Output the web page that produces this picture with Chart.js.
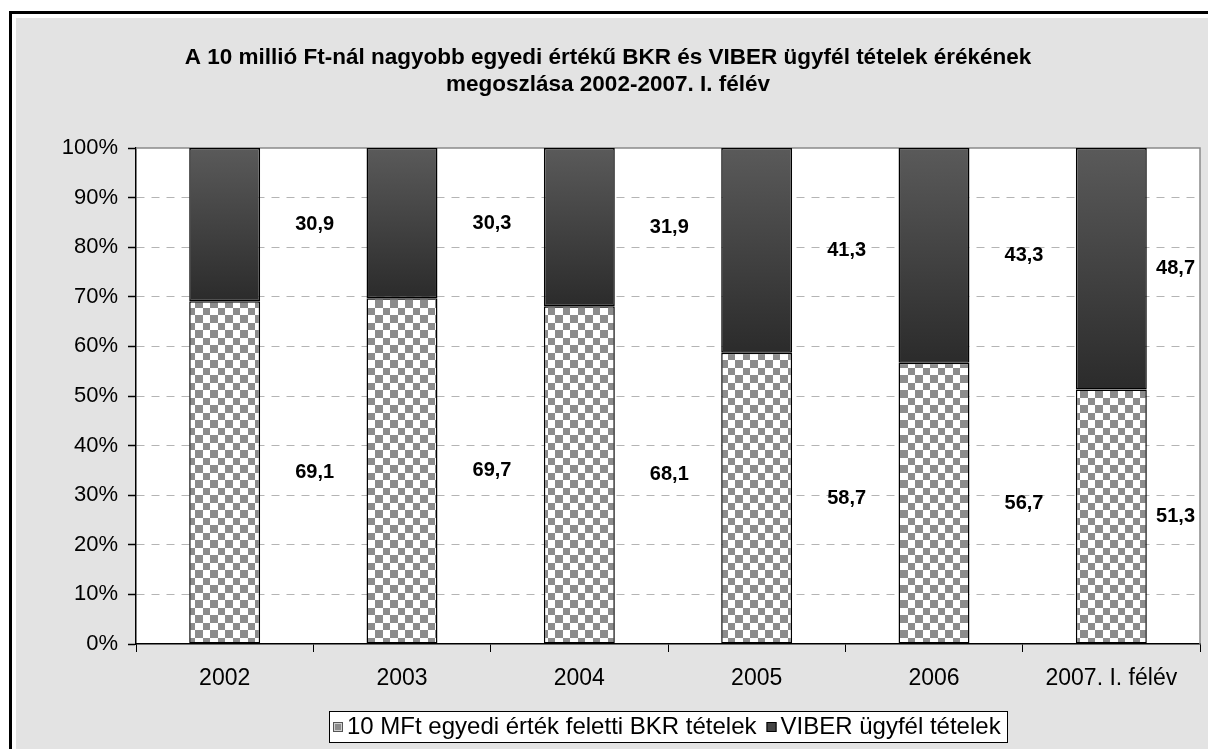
<!DOCTYPE html>
<html>
<head>
<meta charset="utf-8">
<script src="https://cdn.jsdelivr.net/npm/chart.js@4.4.0/dist/chart.umd.min.js"></script>
<style>
  html, body { margin: 0; padding: 0; background: #fff; }
  canvas { display: block; }
</style>
</head>
<body>
<canvas id="chart" width="1208" height="749"></canvas>
<script>
const categories = ["2002", "2003", "2004", "2005", "2006", "2007. I. félév"];
const bkrValues = [69.1, 69.7, 68.1, 58.7, 56.7, 51.3];
const viberValues = [30.9, 30.3, 31.9, 41.3, 43.3, 48.7];
const seriesNames = ["10 MFt egyedi érték feletti BKR tételek", "VIBER ügyfél tételek"];
const titleLines = [
  "A 10 millió Ft-nál nagyobb egyedi értékű BKR és VIBER ügyfél tételek érékének",
  "megoszlása 2002-2007. I. félév"
];
const yTicks = [0, 10, 20, 30, 40, 50, 60, 70, 80, 90, 100];

const FONT = "'Liberation Sans', Arial, sans-serif";

// checkerboard fill for the BKR part
function makeChecker() {
  const c = document.createElement("canvas");
  c.width = 15; c.height = 15;
  const g = c.getContext("2d");
  g.fillStyle = "#fff";
  g.fillRect(0, 0, 15, 15);
  g.fillStyle = "#8c8c8c";
  g.fillRect(0, 0, 8, 8);
  g.fillRect(8, 8, 7, 7);
  return g.createPattern(c, "repeat");
}
const checker = makeChecker();

// dark gradient for the VIBER part, one per bar segment
function viberFill(context) {
  const chart = context.chart;
  if (!chart.chartArea || context.type !== "data") return "#404040";
  const y = chart.scales.y;
  const top = y.getPixelForValue(100);
  const bot = y.getPixelForValue(bkrValues[context.dataIndex]);
  const g = chart.ctx.createLinearGradient(0, top, 0, bot);
  g.addColorStop(0, "#5a5a5a");
  g.addColorStop(1, "#2b2b2b");
  return g;
}

const frame = {
  id: "frame",
  beforeDraw(chart) {
    const { ctx, chartArea: a, width, height } = chart;
    ctx.save();
    ctx.fillStyle = "#fff";
    ctx.fillRect(0, 0, width, height);
    ctx.fillStyle = "#e3e3e3";
    ctx.fillRect(16, 18, width, height);
    ctx.strokeStyle = "#000";
    ctx.lineWidth = 3;
    ctx.strokeRect(10.5, 12.5, width + 20, height + 20);
    ctx.fillStyle = "#fff";
    ctx.fillRect(a.left, a.top, a.right - a.left, a.bottom - a.top);
    ctx.restore();
  },
  beforeDatasetsDraw(chart) {
    const { ctx, chartArea: a } = chart;
    ctx.save();
    ctx.strokeStyle = "#8a8a8a";
    ctx.lineWidth = 1.5;
    ctx.beginPath();
    ctx.moveTo(a.left, a.top);
    ctx.lineTo(a.right, a.top);
    ctx.lineTo(a.right, a.bottom);
    ctx.stroke();
    ctx.restore();
  }
};

const valueLabels = {
  id: "valueLabels",
  afterDatasetsDraw(chart) {
    const { ctx, chartArea } = chart;
    ctx.save();
    ctx.font = "bold 20px " + FONT;
    ctx.fillStyle = "#000";
    ctx.textAlign = "center";
    ctx.textBaseline = "middle";
    chart.data.datasets.forEach((ds, di) => {
      chart.getDatasetMeta(di).data.forEach((bar, i) => {
        const txt = ds.data[i].toFixed(1).replace(".", ",");
        const w = ctx.measureText(txt).width;
        const x = Math.min(bar.x + 90, chartArea.right - 5 - w / 2);
        ctx.fillText(txt, x, (bar.y + bar.base) / 2);
      });
    });
    ctx.restore();
  }
};

// legend in a white box, centred under the plot area
const boxLegend = {
  id: "boxLegend",
  afterDraw(chart) {
    const { ctx, chartArea: a } = chart;
    ctx.save();
    ctx.font = "24px " + FONT;
    const box = 10, gapBox = 4, gapItem = 10, padL = 4, padR = 6;
    const widths = seriesNames.map(n => ctx.measureText(n).width);
    const total = Math.round(padL + padR + widths.reduce((s, w) => s + box + gapBox + w, 0) + gapItem);
    const top = 711, h = 31;
    let x = Math.round((a.left + a.right) / 2 - total / 2);
    ctx.fillStyle = "#fff";
    ctx.fillRect(x, top, total, h);
    ctx.strokeStyle = "#000";
    ctx.lineWidth = 1;
    ctx.strokeRect(x + 0.5, top + 0.5, total, h);
    x += padL;
    const my = Math.round(top + (h - box) / 2);
    seriesNames.forEach((name, i) => {
      if (i === 0) {
        ctx.fillStyle = "#d0d0d0";
        ctx.fillRect(x, my, box, box);
        ctx.fillStyle = "#8c8c8c";
        ctx.fillRect(x + 2, my + 2, box - 4, box - 4);
        ctx.strokeStyle = "#555";
      } else {
        ctx.fillStyle = "#444";
        ctx.fillRect(x, my, box, box);
        ctx.strokeStyle = "#000";
      }
      ctx.strokeRect(x + 0.5, my + 0.5, box - 1, box - 1);
      x += box + gapBox;
      ctx.fillStyle = "#000";
      ctx.textBaseline = "middle";
      ctx.fillText(name, x, top + h / 2 + 1);
      x += widths[i] + gapItem;
    });
    ctx.restore();
  }
};

new Chart(document.getElementById("chart"), {
  type: "bar",
  data: {
    labels: categories,
    datasets: [
      {
        label: seriesNames[0],
        data: bkrValues,
        backgroundColor: checker,
        borderColor: "#000",
        borderWidth: 1.5,
        borderSkipped: false,
        categoryPercentage: 1,
        barPercentage: 0.4
      },
      {
        label: seriesNames[1],
        data: viberValues,
        backgroundColor: viberFill,
        borderColor: "#000",
        borderWidth: 1.5,
        borderSkipped: false,
        categoryPercentage: 1,
        barPercentage: 0.4
      }
    ]
  },
  options: {
    responsive: false,
    animation: false,
    devicePixelRatio: 1,
    layout: { padding: { top: 18, left: 16, right: 8, bottom: 0 } },
    plugins: {
      legend: { display: false },
      tooltip: { enabled: false },
      title: {
        display: true,
        text: titleLines,
        color: "#000",
        font: { family: FONT, size: 22.5, weight: "bold", lineHeight: "27px" },
        padding: { top: 26, bottom: 50 }
      }
    },
    scales: {
      x: {
        stacked: true,
        grid: {
          offset: true,
          drawOnChartArea: false,
          drawTicks: true,
          tickLength: 8,
          tickColor: "#000",
          color: "#000"
        },
        border: { color: "#000", width: 1.5 },
        ticks: {
          color: "#000",
          font: { family: FONT, size: 23 },
          padding: 13,
          maxRotation: 0
        },
        afterFit(scale) { scale.height = 105; }
      },
      y: {
        stacked: true,
        min: 0,
        max: 100,
        afterBuildTicks(scale) { scale.ticks = yTicks.map(v => ({ value: v })); },
        grid: {
          color: c => (c.tick && (c.tick.value === 0 || c.tick.value === 100)) ? "rgba(0,0,0,0)" : "#b4b4b4",
          lineWidth: 1,
          tickLength: 8,
          tickColor: "#000",
          tickWidth: 1.5
        },
        border: { color: "#000", width: 1.5, dash: [8, 7] },
        ticks: {
          color: "#000",
          font: { family: FONT, size: 22 },
          padding: 10,
          callback: v => v + "%"
        },
        afterFit(scale) { scale.width = 120; }
      }
    }
  },
  plugins: [frame, valueLabels, boxLegend]
});
</script>
</body>
</html>
